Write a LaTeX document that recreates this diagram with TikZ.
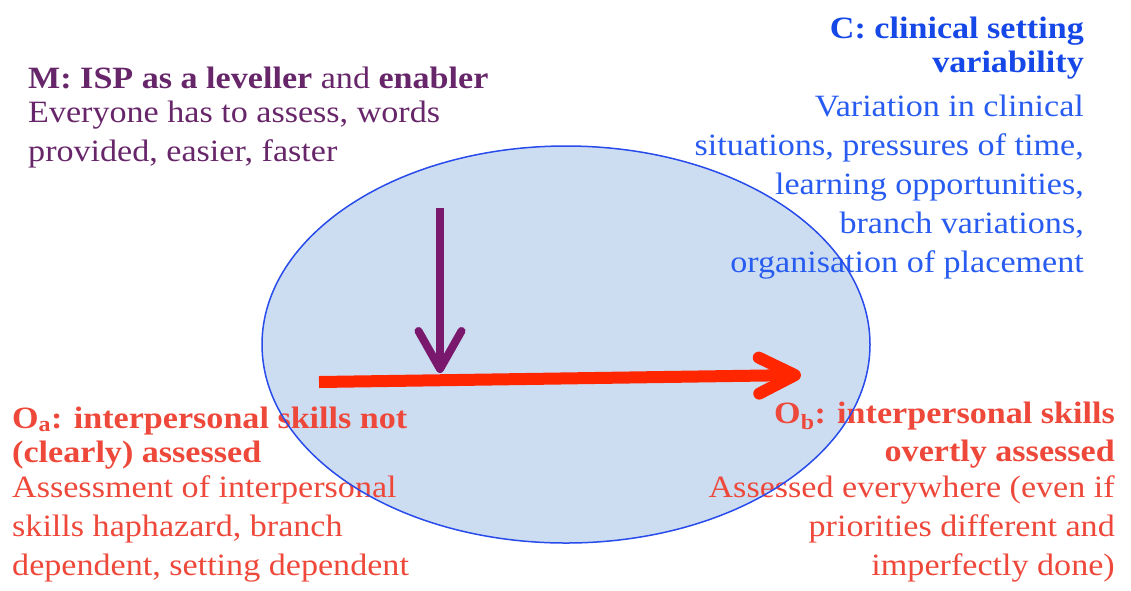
\documentclass[tikz,border=0pt]{standalone}
\usepackage{fontspec}
\setmainfont{Liberation Serif}[FakeStretch=1.1]
\usetikzlibrary{arrows.meta,shapes.geometric}
\definecolor{mPurple}{RGB}{104,38,106}
\definecolor{arrowPurple}{RGB}{122,24,110}
\definecolor{cBlue}{RGB}{22,72,232}
\definecolor{cBlueBody}{RGB}{40,92,240}
\definecolor{oRed}{RGB}{238,72,58}
\definecolor{arrowRed}{RGB}{255,38,0}
\definecolor{ovalFill}{RGB}{204,221,242}
\definecolor{ovalLine}{RGB}{40,75,235}
\tikzset{
  headtext/.style={font=\fontsize{31}{34}\selectfont\bfseries, inner sep=0pt},
  bodytext/.style={font=\fontsize{31}{39}\selectfont, inner sep=0pt},
  mecharrow/.style={draw=arrowPurple, line width=8pt, -{Straight Barb[length=38pt,width=43pt,round]}},
  outarrow/.style={draw=arrowRed, line width=12pt, -{Straight Barb[length=36pt,width=36pt,round]}},
}
\begin{document}
\begin{tikzpicture}[x=1pt,y=-1pt]
  \useasboundingbox (0,0) rectangle (1131,590);
  % context oval
  \node[ellipse, fill=ovalFill, minimum width=608pt, minimum height=397pt, inner sep=0pt] (oval) at (566,344.5) {};

  % mechanism (anchored at the last baseline)
  \node[headtext, text=mPurple, anchor=base west] (mhead) at (28,88) {M: ISP as a leveller \textmd{and} enabler};
  \node[bodytext, text=mPurple, anchor=base west, align=left] (mbody) at (28,161) {Everyone has to assess, words\\provided, easier, faster};

  % context
  \node[headtext, text=cBlue, anchor=base east, align=right] (chead) at (1084,72) {C: clinical setting\\variability};
  \node[bodytext, text=cBlueBody, anchor=base east, align=right] (cbody) at (1084,272) {Variation in clinical\\situations, pressures of time,\\learning opportunities,\\branch variations,\\organisation of placement};

  % outcomes
  \node[headtext, text=oRed, anchor=base west, align=left] (oahead) at (12,462) {O\textsubscript{a}: interpersonal skills not\\(clearly) assessed};
  \node[bodytext, text=oRed, anchor=base west, align=left] (oabody) at (12,575) {Assessment of interpersonal\\skills haphazard, branch\\dependent, setting dependent};
  \node[headtext, text=oRed, anchor=base east, align=right] (obhead) at (1115,461) {O\textsubscript{b}: interpersonal skills\\[4pt]overtly assessed};
  \node[bodytext, text=oRed, anchor=base east, align=right] (obbody) at (1115,575) {Assessed everywhere (even if\\priorities different and\\imperfectly done)};

  \draw[ovalLine, line width=1.5pt] (oval.center) ellipse (304pt and 198.5pt);

  % arrows
  \coordinate (oastart) at (319,382);
  \coordinate (obtip) at (801,375);
  \coordinate (mstart) at (440,208);
  \coordinate (mtip) at (440,373);
  \draw[outarrow] (oastart) -- (obtip);
  \draw[mecharrow] (mstart) -- (mtip);
\end{tikzpicture}
\end{document}
